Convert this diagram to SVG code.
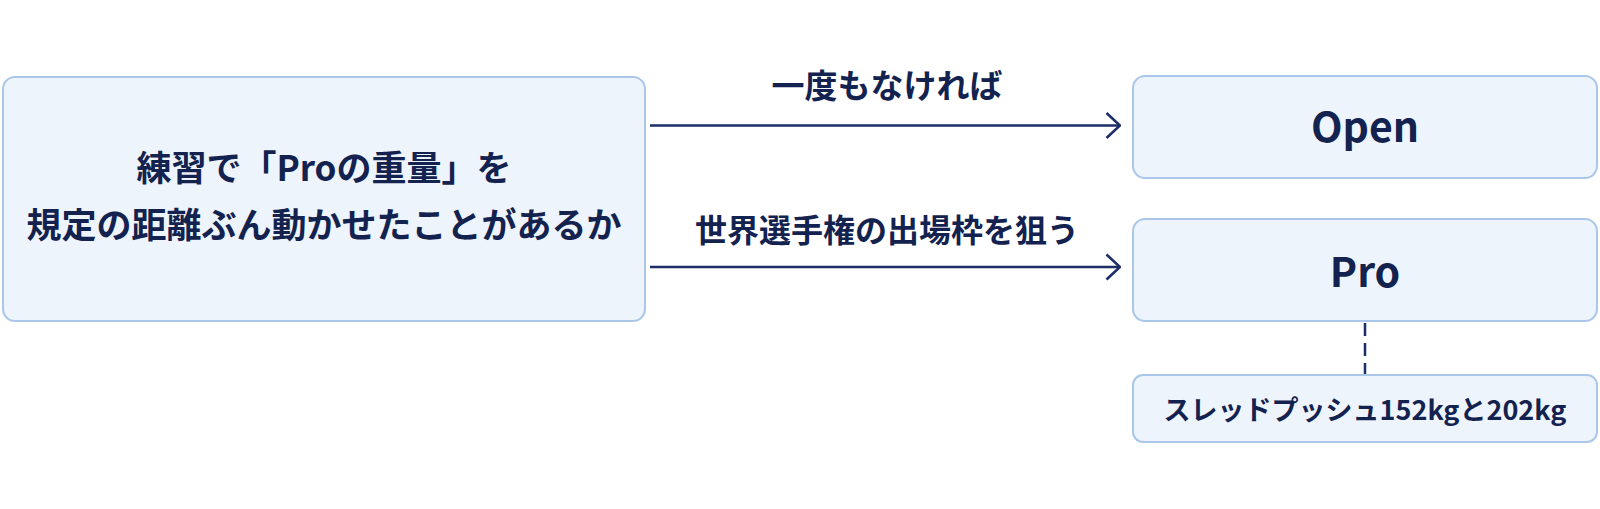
<svg xmlns="http://www.w3.org/2000/svg" width="1600" height="509" viewBox="0 0 1600 509">
<defs>
<style>
.box{fill:#eef4fb;stroke:#aac7ea;stroke-width:2}
.t{font-family:"Noto Sans CJK JP","Noto Sans",sans-serif;font-weight:bold;fill:#13224f;text-anchor:middle}
.c{stroke:#1b2e68;stroke-width:2.5;fill:none}
</style>
<marker id="ah" viewBox="0 0 16 28" refX="15" refY="14" markerWidth="16" markerHeight="28" markerUnits="userSpaceOnUse" orient="auto">
<path d="M1.5,1.5 L15,14 L1.5,26.5" fill="none" stroke="#1b2e68" stroke-width="2.6"/>
</marker>
</defs>
<rect width="1600" height="509" fill="#ffffff"/>
<g id="connectors">
<line class="c" x1="650" y1="125.5" x2="1120" y2="125.5" marker-end="url(#ah)"/>
<line class="c" x1="650" y1="267" x2="1120" y2="267" marker-end="url(#ah)"/>
<line x1="1365" y1="323" x2="1365" y2="374" stroke="#1b2e68" stroke-width="2.5" stroke-dasharray="13,7"/>
<text class="t" x="887" y="98" font-size="33">一度もなければ</text>
<text class="t" x="887" y="242" font-size="32">世界選手権の出場枠を狙う</text>
</g>
<g id="question">
<rect class="box" x="3" y="77" width="642" height="244" rx="12"/>
<text class="t" x="324" y="181" font-size="35">練習で「Proの重量」を</text>
<text class="t" x="324" y="238" font-size="35">規定の距離ぶん動かせたことがあるか</text>
</g>
<g id="open">
<rect class="box" x="1133" y="76" width="464" height="102" rx="12"/>
<text class="t" x="1365" y="142" font-size="41">Open</text>
</g>
<g id="pro">
<rect class="box" x="1133" y="219" width="464" height="102" rx="12"/>
<text class="t" x="1365" y="287" font-size="41">Pro</text>
</g>
<g id="sled">
<rect class="box" x="1133" y="375" width="464" height="67" rx="10"/>
<text class="t" x="1365" y="420" font-size="27">スレッドプッシュ152kgと202kg</text>
</g>
</svg>
